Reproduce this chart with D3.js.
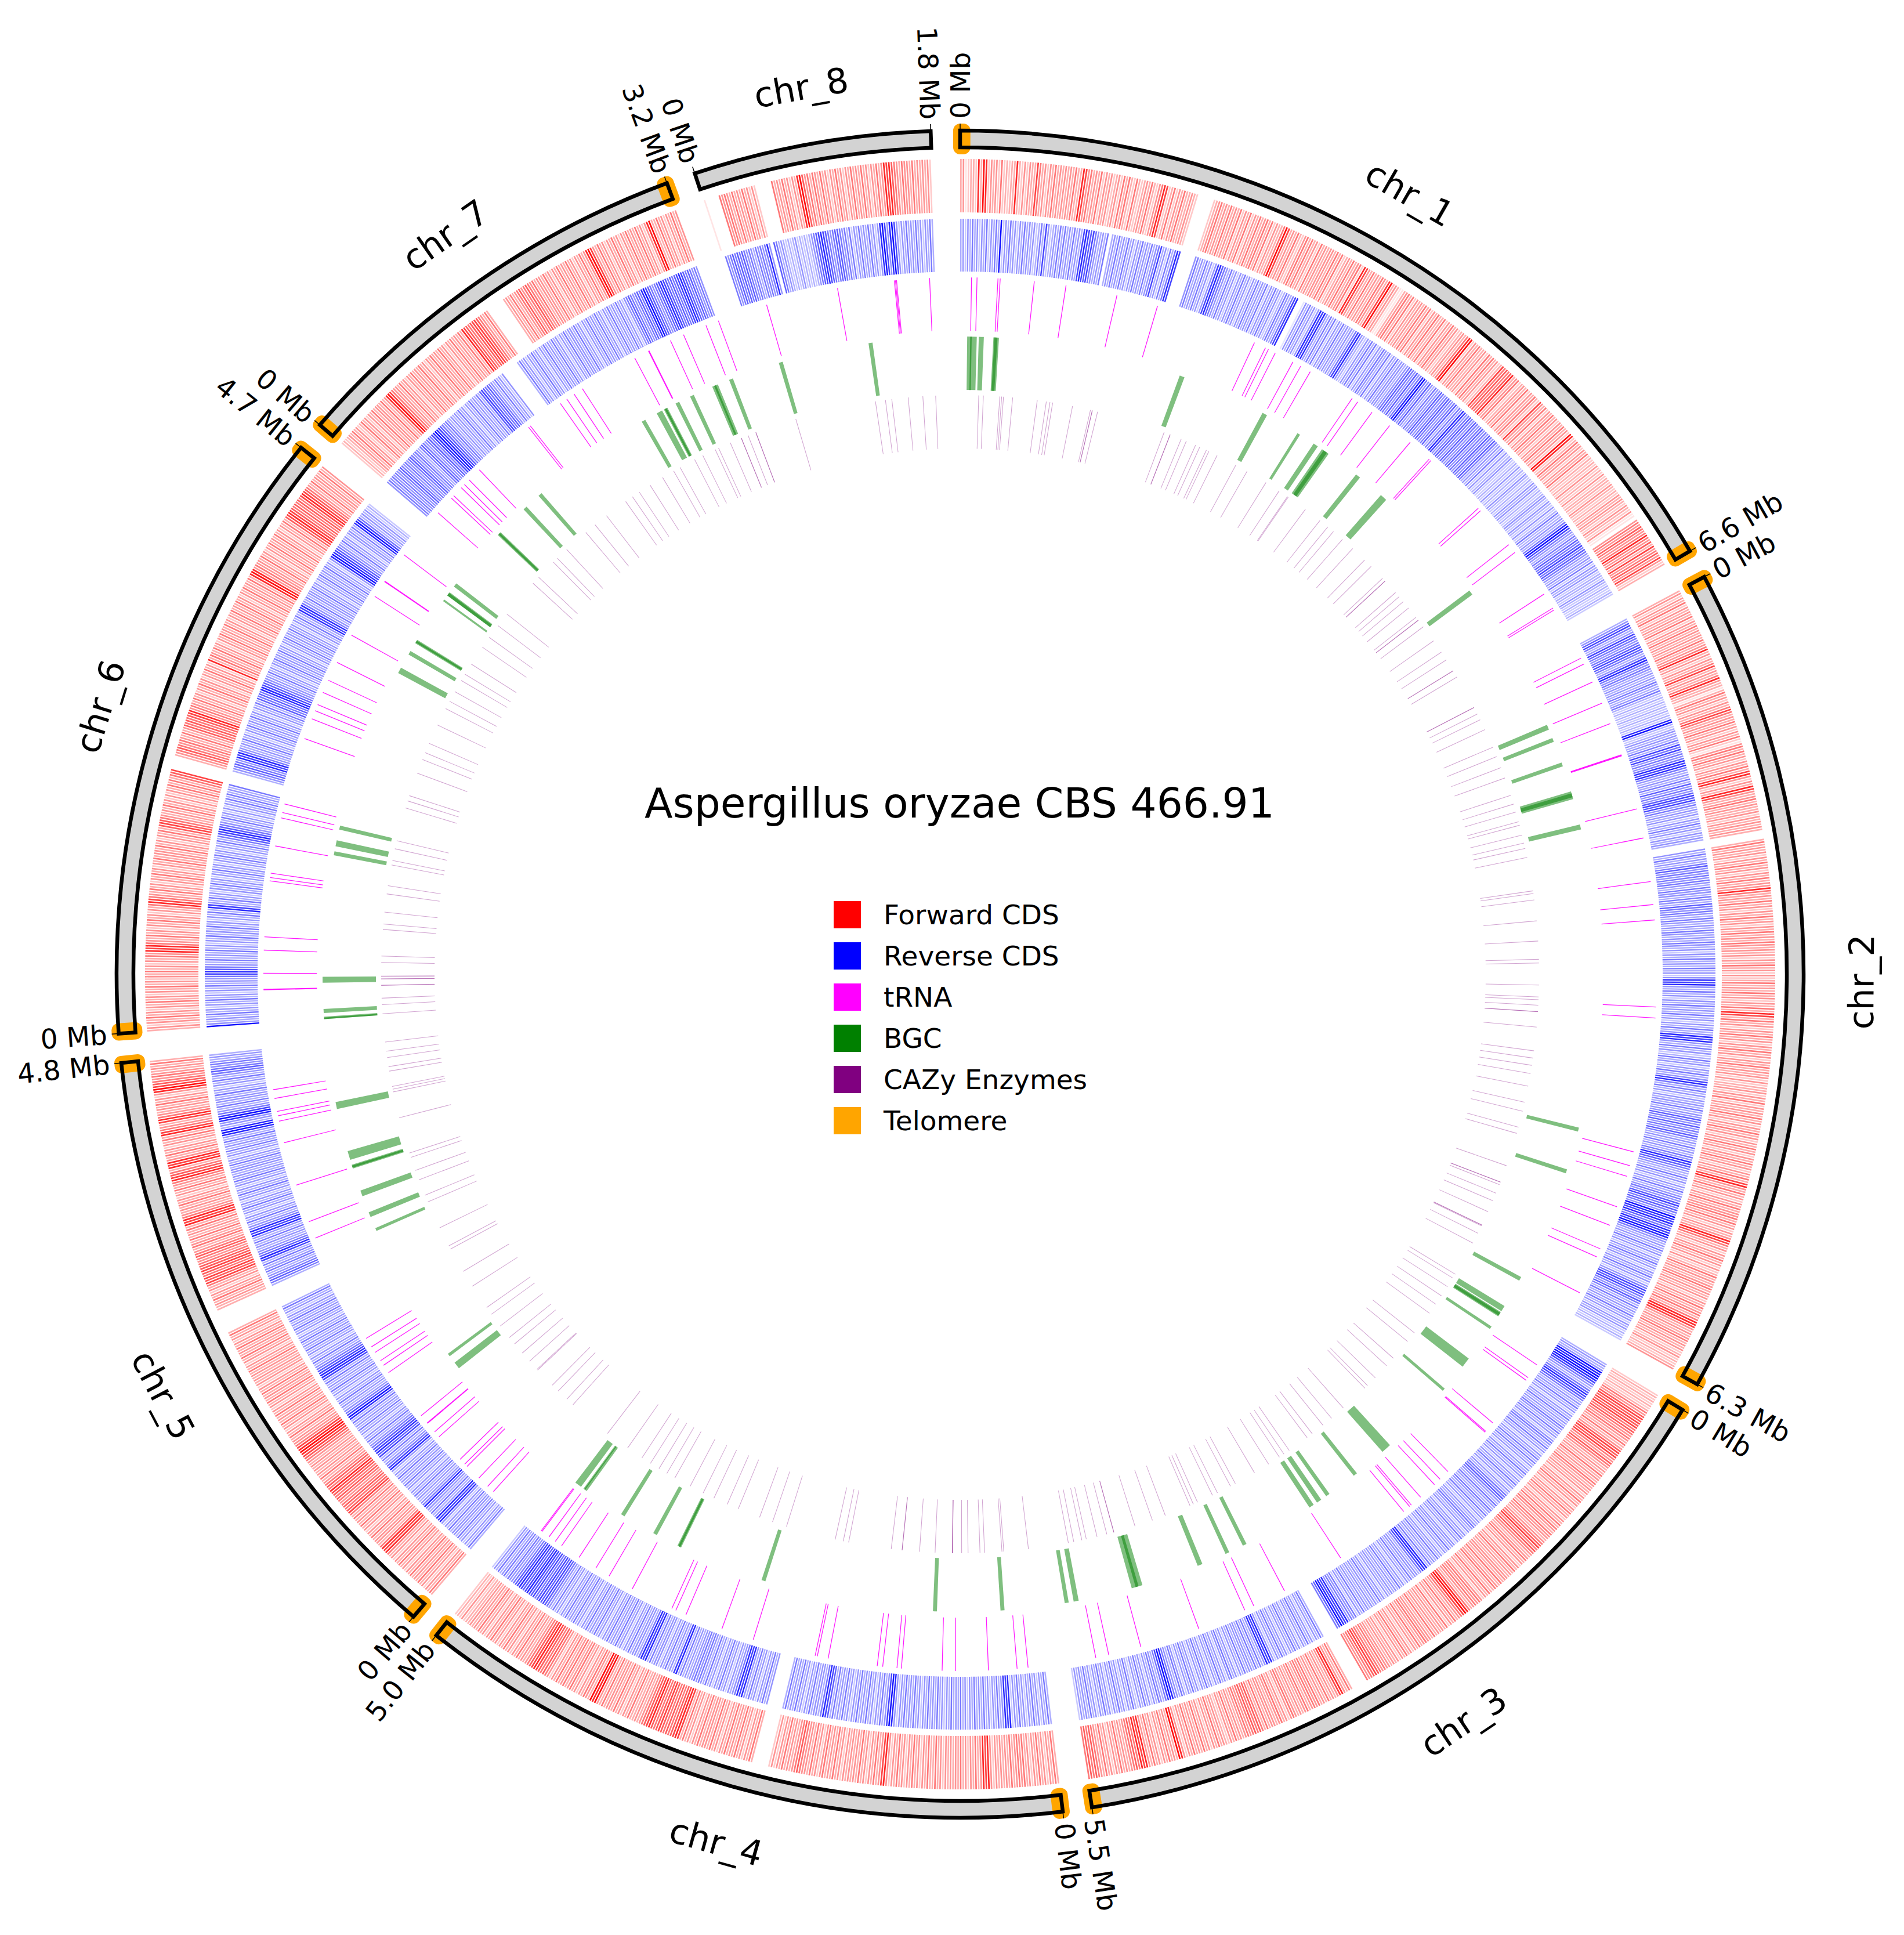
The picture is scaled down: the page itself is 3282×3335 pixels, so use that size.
<!DOCTYPE html>
<html lang="en">
<head>
  <meta charset="UTF-8">
  <title>Aspergillus oryzae CBS 466.91</title>
  <script src="https://d3js.org/d3.v7.min.js"></script>
  <style>
    body { margin: 0; background: white; }
    text { font-family: "DejaVu Sans", sans-serif; fill: black; }
  </style>
</head>
<body>
  <script>
    // Chromosomes
    const chrNames = ["chr_1", "chr_2", "chr_3", "chr_4", "chr_5", "chr_6", "chr_7", "chr_8"];
    const chrLengths = [6.6, 6.3, 5.5, 5.0, 4.8, 4.7, 3.2, 1.8]; // Mb
    const telomereChrs = ["chr_1", "chr_2", "chr_3", "chr_4", "chr_5", "chr_6", "chr_7"];

    // CDS shade: one digit per 0.02 Mb, one string per Mb
    const fwdChr1 = ["3412332839 8243425232 3383242433 7534243534 3434353387", "4534352434 2342535325 3234353245 8723524353 3432000000", "2345343534 3524352435 3453524335 9734353245 3534253434", "4353523435 3452874353 4354379343 1134535243 4353524353", "3524353423 4358924353 3425353423 7565683452 3435243532", "7435243534 2435342982 3534243523 2324232423 3243232434", "3243241104 5465458546 3745647423"];
    const fwdChr2 = ["3424352434 3524353434 3534583424 3573435843 3135342435", "7534353424 3521453534 2435378424 3874345343 3424343430", "0035343424 3534243534 4853435342 4353424353 4354343424", "3534242353 4353424353 8735342435 3424353424 3534342423", "3424352434 3534243534 2435342435 3424353784 3534243534", "4535342434 8753424353 4242353434 5343424353 4535887434", "345343423423234"];
    const fwdChr3 = ["2323232354 6767675654 5435346767 5465434353 4354343424", "3534243534 2435354354 4345675654 3453424353 4344353453", "3534245454 3589754353 4253434353 4454353424 3534243434", "4545676545 0000003534 8743435343 5454354343 4542435434", "4353565654 5434353423 4353424353 4353424893 4353424353", "4878565434 3534243534 56565"];
    const fwdChr4 = ["3534243534 2435454353 4343424878 4353424353 4343424353", "3534243534 2435342487 4353424353 4343424353 4354243534", "4565434353 4242000000 3534243534 3534243534 4353424353", "7876565676 5687654343 3534243534 4353498934 5342435435", "4353424565 6787654343 5342435342 4353424353 4343324232"];
    const fwdChr5 = ["3534243534 3534243534 2435878534 4353424353 4353576565", "4565678565 4353434343 4567898754 4353424353 4353424353", "4353424343 4353424353 4353424353 0000000003 3435342435", "7675676654 5654354353 4353878543 4353424353 4587653878", "4353424353 8754378543 4353424897 6545434353"];
    const fwdChr6 = ["3424353424 3534243534 2435342435 4878543534 2435342435", "8754353424 3534243534 4353424353 6765434353 4242435353", "5670000034 5654543534 6565678454 3534243534 2435342835", "4353424353 4353424353 4353424353 4353898454 4353424353", "4353424353 6787656565 7876543534 43534"];
    const fwdChr7 = ["2323435342 3534243534 4353489754 4353424353 4353424353", "4353424353 4353876567 7654353000 0000343534 5645654534", "4353424353 4353424353 4897435342 4353424353 4353424893", "3534243534"];
    const fwdChr8 = ["1000005454 3534353424 2000000534 3534243896 4535435342", "4353424353 4353424353 4878654354 4353434342"];
    const fwdCds = [fwdChr1, fwdChr2, fwdChr3, fwdChr4, fwdChr5, fwdChr6, fwdChr7, fwdChr8];

    const revChr1 = ["3424353424 3524353924 3534243534 3423537423 4353534353", "4378767543 4350343534 3534243534 3534573425 3587000000", "4534353424 7865435342 4353424353 4352435342 3543578001", "4353424878 4353524353 4343578432 4353524354 3524353443", "4565464589 5464354465 4565456354 8745654654 5645465465", "3435242342 2324232432 3243423234 3243242353 3435897543", "5465675654 3435243423 3243232232"];
    const revChr2 = ["3467534765 4567653478 5454343435 4345323232 3232328932", "3434353757 4545878543 4353645467 6745343424 3534243430", "0043534356 4545454354 4354365454 3543435434 3543424353", "4353424878 4353424353 4353424353 4878435342 3534243534", "7853534243 4353446546 4546534353 4354876543 3534243534", "5467565498 7865879854 3435342435 3424353424 5767546535", "343534243423232"];
    const revChr3 = ["3434989987 5435687653 4353424353 4354353424 5435342435", "3534243534 2435342435 5654354354 3534243454 3424353424", "4353424353 4353887534 4353424353 4343424353 4343435342", "5454878965 0000003534 2435342435 3424353424 8784353534", "4353424354 2435342435 3424353424 5345897534 5342435342", "3534243534 2435342435 34342"];
    const revChr4 = ["3534243534 2435342878 4353424353 4353424353 4353424353", "4353424353 4353424897 4353424353 4353424353 4353678534", "4353424353 4353000000 4353424353 4878543424 3534243534", "5454434353 8734353424 4353878534 4353424353 4353424353", "4353424353 4353424353 4567676576 7876787654 4535435342"];
    const revChr5 = ["3534243534 4353424878 4353458543 4353424353 4353424875", "4353768765 4353424353 4353897543 4353424353 4353788765", "4353424353 4353424353 4353424353 0000000003 5654354353", "7865434353 4878543534 2435342435 3424353434 4353424353", "4353489834 4897543534 4353424353 4565454343"];
    const revChr6 = ["9434353424 3534243534 4578654353 4353424353 4353424353", "8743534243 5342435342 4353424353 5678654353 4242435353", "4350000034 5654878543 4353424353 4353424353 6565887654", "4353424353 4353424353 4353424353 4878543534 4353424353", "4353424898 7654353424 4353897534 34232"];
    const revChr7 = ["4545454565 4545654543 5654565789 8765454343 4353424353", "4353676565 4353424000 0000353424 3534243534 3534243534", "4353424353 4353424353 4353424565 4565897654 5678765656", "7876565454"];
    const revChr8 = ["0545656565 4543545458 4065343232 3423232345 6787654566", "5453524353 4353424897 4897424353 4353424353"];
    const revCds = [revChr1, revChr2, revChr3, revChr4, revChr5, revChr6, revChr7, revChr8];

    // tRNA positions, Mb
    const trna = [
      [0.1, 0.15, 0.34, 0.36, 0.67, 0.96, 1.43, 1.81, 2.75, 2.86, 2.89, 2.96, 3.14, 3.22, 3.32, 3.77, 3.83, 3.99, 4.19, 4.43, 4.66, 4.68, 5.29, 5.32, 5.72, 5.81, 6.27, 6.42, 6.44],
      [0.12, 0.18, 0.36, 0.57, 0.77, 1.07, 1.075, 1.08, 1.58, 1.85, 2.25, 2.46, 2.6, 3.39, 3.49, 4.72, 4.85, 4.95, 5.24, 5.42, 5.65, 5.73, 6.09],
      [0.33, 0.47, 0.5, 0.99, 1.09, 1.1, 1.59, 1.69, 1.76, 1.93, 2.04, 2.06, 2.13, 2.84, 3.43, 3.74, 3.83, 4.28, 4.83, 5.13, 5.25],
      [0.15, 0.25, 0.51, 0.81, 0.93, 1.3, 1.34, 1.47, 1.52, 1.97, 2.07, 2.09, 2.67, 2.97, 3.32, 3.42, 3.46, 3.86, 4.1, 4.24, 4.42, 4.61, 4.68, 4.75, 4.83, 4.84],
      [0.18, 0.25, 0.36, 0.51, 0.54, 0.6, 0.88, 0.94, 1.04, 1.045, 1.13, 1.62, 1.7, 1.75, 1.84, 1.9, 1.99, 3.01, 3.17, 3.52, 3.92, 4.12, 4.17, 4.21, 4.33, 4.41],
      [0.3, 0.305, 0.45, 0.66, 0.78, 1.29, 1.32, 1.36, 1.61, 1.87, 1.92, 2.0, 2.62, 2.81, 2.89, 2.95, 3.07, 3.19, 3.37, 3.65, 4.06, 4.22, 4.225, 4.52],
      [0.09, 0.27, 0.3, 0.4, 0.44, 0.5, 0.63, 1.22, 1.24, 1.58, 1.65, 1.73, 1.82, 2.37, 2.51, 2.515, 2.73, 2.86, 3.08, 3.2],
      [0.24, 0.9, 1.42, 1.43, 1.44, 1.74]
    ];

    // BGC start and end, Mb
    const bgc = [
      [[0.07, 0.165], [0.1, 0.115], [0.185, 0.235], [0.33, 0.385], [0.34, 0.37], [2.22, 2.27], [3.12, 3.17], [3.52, 3.55], [3.71, 3.76], [3.81, 3.89], [3.83, 3.87], [4.23, 4.28], [4.55, 4.62], [5.84, 5.89]],
      [[0.56, 0.61], [0.7, 0.74], [0.96, 1.0], [1.26, 1.34], [1.28, 1.32], [1.6, 1.65], [4.63, 4.67], [5.06, 5.1], [6.22, 6.26]],
      [[0.03, 0.09], [0.1, 0.15], [0.11, 0.14], [0.27, 0.3], [0.66, 0.76], [1.04, 1.07], [1.82, 1.92], [2.25, 2.29], [2.59, 2.63], [2.69, 2.74], [2.78, 2.83], [3.55, 3.59], [3.74, 3.78], [4.03, 4.08], [4.66, 4.77], [4.7, 4.73], [5.31, 5.36], [5.41, 5.45]],
      [[0.33, 0.37], [1.0, 1.04], [2.73, 2.77], [3.63, 3.67], [3.64, 3.66], [3.9, 3.94], [4.27, 4.31], [4.72, 4.76], [4.74, 4.75], [4.79, 4.86]],
      [[1.26, 1.33], [1.41, 1.44], [2.85, 2.88], [3.0, 3.05], [3.22, 3.28], [3.51, 3.55], [3.52, 3.54], [3.6, 3.69], [4.12, 4.19]],
      [[0.0, 0.025], [0.0, 0.015], [0.06, 0.1], [0.36, 0.42], [1.63, 1.67], [1.72, 1.78], [1.89, 1.93], [3.55, 3.61], [3.76, 3.8], [3.89, 3.93], [3.9, 3.92], [4.39, 4.41], [4.46, 4.5], [4.46, 4.49], [4.57, 4.61]],
      [[0.32, 0.36], [0.33, 0.35], [0.68, 0.72], [0.88, 0.92], [2.14, 2.18], [2.31, 2.37], [2.39, 2.43], [2.4, 2.42], [2.52, 2.56], [2.68, 2.72], [2.92, 2.98], [2.94, 2.96], [3.1, 3.14]],
      [[0.2, 0.24], [1.11, 1.15]]
    ];

    // CAZy enzyme positions, Mb
    const cazy = [
      [0.2, 0.25, 0.43, 0.45, 0.47, 0.57, 0.84, 0.94, 0.98, 1.01, 1.23, 1.43, 1.45, 1.451, 1.51, 2.27, 2.34, 2.341, 2.47, 2.53, 2.64, 2.69, 2.77, 2.8, 2.9, 3.13, 3.27, 3.51, 3.68, 3.79, 3.8, 4.03, 4.23, 4.34, 4.42, 4.55, 4.7, 4.88, 4.98, 5.16, 5.2, 5.201, 5.37, 5.43, 5.5, 5.59, 5.72, 5.76, 5.761, 5.85, 6.04, 6.19, 6.29, 6.43, 6.431, 6.51],
      [0.07, 0.071, 0.15, 0.22, 0.34, 0.55, 0.66, 0.79, 0.91, 1.11, 1.21, 1.3, 1.41, 1.45, 1.56, 1.65, 1.71, 1.81, 2.18, 2.21, 2.28, 2.51, 2.73, 2.93, 2.97, 3.21, 3.34, 3.37, 3.43, 3.5, 3.501, 3.67, 3.93, 4.01, 4.09, 4.18, 4.32, 4.5, 4.6, 4.78, 4.85, 5.22, 5.41, 5.411, 5.44, 5.54, 5.63, 5.76, 5.92, 5.921, 5.93, 6.02, 6.14],
      [0.01, 0.06, 0.17, 0.29, 0.4, 0.52, 0.79, 0.91, 1.15, 1.26, 1.44, 1.56, 1.6, 1.92, 2.09, 2.21, 2.36, 2.43, 2.67, 2.74, 2.8, 2.94, 3.12, 3.36, 3.42, 3.58, 3.64, 3.82, 3.87, 3.91, 4.2, 4.35, 4.55, 4.79, 4.791, 4.87, 4.98, 5.1, 5.15, 5.24, 5.3],
      [0.02, 0.29, 0.31, 0.5, 0.55, 0.68, 0.75, 0.85, 0.851, 0.852, 1.04, 1.21, 1.4, 1.401, 1.52, 1.99, 2.05, 2.14, 2.69, 2.85, 3.0, 3.25, 3.38, 3.54, 3.67, 3.83, 4.02, 4.12, 4.22, 4.33, 4.44, 4.63, 4.9],
      [0.17, 0.26, 0.39, 0.48, 0.71, 0.72, 0.84, 0.96, 1.09, 1.18, 1.34, 1.5, 1.59, 1.87, 2.06, 2.34, 2.38, 2.6, 2.91, 2.99, 3.17, 3.28, 3.43, 3.48, 3.88, 4.17, 4.2, 4.23, 4.4, 4.45, 4.55, 4.62, 4.72],
      [0.01, 0.11, 0.18, 0.32, 0.321, 0.39, 0.391, 0.42, 0.421, 0.57, 0.64, 0.93, 0.99, 1.12, 1.32, 1.41, 1.64, 1.69, 1.82, 1.91, 2.28, 2.36, 2.42, 2.68, 2.84, 2.92, 3.03, 3.25, 3.45, 3.54, 3.66, 3.8, 3.88, 4.01, 4.23, 4.36, 4.52, 4.68],
      [0.2, 0.29, 0.52, 0.58, 0.72, 1.0, 1.13, 1.29, 1.55, 1.64, 1.73, 1.87, 2.03, 2.17, 2.25, 2.43, 2.53, 2.68, 2.72, 2.86, 2.99, 2.991, 3.07, 3.16, 3.161],
      [0.2, 1.09, 1.2, 1.27, 1.45, 1.61, 1.75]
    ];

    const legendLabels = ["Forward CDS", "Reverse CDS", "tRNA", "BGC", "CAZy Enzymes", "Telomere"];
    const legendColors = ["#ff0000", "#0000ff", "#ff00ff", "#008000", "#800080", "#ffa500"];

    // Dimensions
    const width = 3282;
    const height = 3335;
    const cx = 1655;
    const cy = 1679;
    const gapDeg = 2;
    const binMb = 0.02;

    const svg = d3.select("body").append("svg")
      .attr("width", width)
      .attr("height", height);
    const plot = svg.append("g").attr("transform", `translate(${cx},${cy})`);

    // One angle scale per chromosome, clockwise from the top
    const degPerMb = (360 - gapDeg * chrNames.length) / d3.sum(chrLengths);
    let cursor = 0;
    const angle = chrLengths.map(len => {
      const scale = d3.scaleLinear()
        .domain([0, len])
        .range([cursor, cursor + len * degPerMb].map(d => d * Math.PI / 180));
      cursor += len * degPerMb + gapDeg;
      return scale;
    });

    const arc = d3.arc();
    const wedge = (chr, a, b, r0, r1) => arc({
      innerRadius: r0,
      outerRadius: r1,
      startAngle: angle[chr](a),
      endAngle: angle[chr](b)
    });

    const ringOuter = 1454;
    const ringInner = 1425;
    const shade = d3.scaleLinear().domain([0, 9]).range([0, 0.95]);

    // Decode the digit strings into one bin per 0.02 Mb
    function decodeBins(strings) {
      return strings.flatMap((s, mb) =>
        s.replace(/ /g, "").split("").map((c, i) => ({ start: mb + i * binMb, level: +c })));
    }

    function drawCds(data, color, r0, r1) {
      data.forEach((strings, chr) => {
        plot.append("g").selectAll("path")
          .data(decodeBins(strings).filter(d => d.level > 0))
          .join("path")
          .attr("d", d => wedge(chr, d.start, d.start + binMb * 0.62, r0, r1))
          .attr("fill", color)
          .attr("fill-opacity", d => shade(d.level));
      });
    }

    drawCds(fwdCds, "#ff0000", 1313, 1405);
    drawCds(revCds, "#0000ff", 1211, 1302);

    // Narrow feature tracks
    function drawTicks(data, color, r0, r1, size, opacity) {
      data.forEach((positions, chr) => {
        plot.append("g").selectAll("path")
          .data(positions)
          .join("path")
          .attr("d", d => wedge(chr, d, d + size, r0, r1))
          .attr("fill", color)
          .attr("fill-opacity", opacity);
      });
    }

    drawTicks(trna, "#ff00ff", 1109, 1201, 0.007, 0.9);
    drawTicks(cazy, "#800080", 906, 998, 0.007, 0.36);

    bgc.forEach((spans, chr) => {
      plot.append("g").selectAll("path")
        .data(spans)
        .join("path")
        .attr("d", d => wedge(chr, d[0], d[1], 1007, 1099))
        .attr("fill", "#008000")
        .attr("fill-opacity", 0.5);
    });

    // Outer ring: grey fill, telomeres, then the black outline
    chrLengths.forEach((len, chr) => {
      plot.append("path")
        .attr("d", wedge(chr, 0, len, ringInner, ringOuter))
        .attr("fill", "#d3d3d3");
    });

    telomereChrs.forEach(name => {
      const chr = chrNames.indexOf(name);
      const len = chrLengths[chr];
      [[0, 0.025], [len - 0.025, len]].forEach(t => {
        plot.append("path")
          .attr("d", wedge(chr, t[0], t[1], ringInner, ringOuter))
          .attr("fill", "#ffa500")
          .attr("stroke", "#ffa500")
          .attr("stroke-width", 24)
          .attr("stroke-linejoin", "round");
      });
    });

    chrLengths.forEach((len, chr) => {
      plot.append("path")
        .attr("d", wedge(chr, 0, len, ringInner, ringOuter))
        .attr("fill", "none")
        .attr("stroke", "black")
        .attr("stroke-width", 6.5);

      // End ticks and their labels
      [0, len].forEach(pos => {
        const deg = angle[chr](pos) * 180 / Math.PI;
        const g = plot.append("g").attr("transform", `rotate(${deg})`);
        g.append("line")
          .attr("y1", -ringOuter)
          .attr("y2", -ringOuter - 12)
          .attr("stroke", "black")
          .attr("stroke-width", 1.5);

        const right = deg <= 180;
        plot.append("text")
          .attr("transform", `rotate(${deg}) translate(0,${-ringOuter - 20}) rotate(${right ? -90 : 90})`)
          .attr("text-anchor", right ? "start" : "end")
          .attr("dy", "0.36em")
          .attr("font-size", 47)
          .text(pos === 0 ? "0 Mb" : `${len.toFixed(1)} Mb`);
      });

      // Chromosome name, kept upright
      const mid = angle[chr](len / 2) * 180 / Math.PI;
      const flip = mid > 90 && mid < 270;
      plot.append("text")
        .attr("transform", `rotate(${mid}) translate(0,-1553) rotate(${flip ? 180 : 0})`)
        .attr("text-anchor", "middle")
        .attr("dy", "0.36em")
        .attr("font-size", 60)
        .text(chrNames[chr]);
    });

    // Title
    svg.append("text")
      .attr("x", 1654)
      .attr("y", 1409)
      .attr("text-anchor", "middle")
      .attr("font-size", 71)
      .text("Aspergillus oryzae CBS 466.91");

    // Legend
    const legend = svg.append("g").selectAll("g")
      .data(legendLabels)
      .join("g")
      .attr("transform", (d, i) => `translate(1437,${1553 + i * 71})`);

    legend.append("rect")
      .attr("width", 47)
      .attr("height", 47)
      .attr("fill", (d, i) => legendColors[i]);

    legend.append("text")
      .attr("x", 86)
      .attr("y", 23)
      .attr("dy", "0.36em")
      .attr("font-size", 47)
      .text(d => d);
  </script>
</body>
</html>
